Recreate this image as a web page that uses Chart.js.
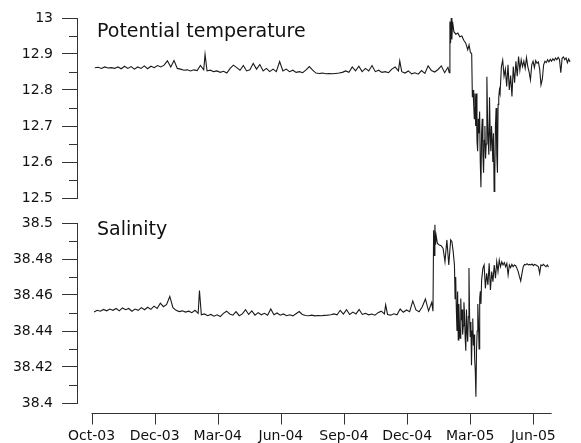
<!DOCTYPE html>
<html>
<head>
<meta charset="utf-8">
<script src="https://cdn.jsdelivr.net/npm/chart.js@4"></script>
<style>
    body { margin: 0; background: #fff; }
    #wrap { position: relative; width: 581px; height: 443px; }
    canvas { position: absolute; left: 0; }
</style>
</head>
<body>
<div id="wrap">
    <canvas id="tempChart" width="581" height="210" style="top:0"></canvas>
    <canvas id="salChart" width="581" height="233" style="top:210px"></canvas>
</div>
<script>
// x axis units: 100 per labelled tick
var tickLabels = ['Oct-03', 'Dec-03', 'Mar-04', 'Jun-04', 'Sep-04', 'Dec-04', 'Mar-05', 'Jun-05'];
var tickPositions = [0, 100, 200, 300, 400, 500, 600, 700];

var time = [4, 9, 14, 19, 24, 29, 34, 39, 44, 49, 54, 59, 64, 69, 74, 79, 84, 89, 94, 99,
    104, 109, 114, 119, 124, 129, 134, 139, 144, 149, 154, 159, 164, 169, 171,
    174, 179, 184, 189, 194, 199, 204, 209, 214, 219, 224, 229, 234, 239, 244, 249, 254, 259, 264, 269,
    274, 279, 284, 289, 294, 299, 304, 309, 314, 319, 324, 329, 334, 339, 344, 349, 354, 359, 364, 369,
    374, 379, 384, 389, 394, 399, 404, 409, 414, 419, 424, 429, 434, 439, 444, 449, 454, 459, 464, 466,
    469, 474, 479, 484, 489, 494, 499, 504, 509, 514, 519, 524, 529, 534, 539,
    541, 542, 543, 544, 545, 546, 548, 551, 554, 557, 560, 563, 566, 569, 571, 573, 575,
    576, 577, 578, 579, 580, 581, 582, 583, 584, 585, 586, 587, 588, 589, 590, 591, 592, 593, 594, 595,
    596, 597, 598, 599, 600, 601, 602, 603, 604, 605, 606, 607, 608, 609, 610, 611, 612, 613, 614, 615,
    616, 617, 618,
    620, 622, 624, 626, 628, 630, 632, 634, 636, 638, 640, 642, 644, 646, 648, 650, 652, 654, 656, 658,
    660, 662, 664, 666, 668, 670, 672, 674, 676, 678, 680, 682, 684, 686, 688, 690, 692, 694, 696, 698,
    700, 702, 704, 706, 708, 710, 712, 714, 716, 718, 720, 722, 724];

var temperature = [12.862, 12.863, 12.860, 12.864, 12.861, 12.862, 12.860, 12.864, 12.859, 12.866,
    12.860, 12.865, 12.858, 12.864, 12.860, 12.867, 12.859, 12.866, 12.862, 12.868,
    12.864, 12.869, 12.881, 12.864, 12.882, 12.860, 12.858, 12.855, 12.856, 12.853,
    12.856, 12.854, 12.868, 12.856, 12.899,
    12.853, 12.855, 12.851, 12.853, 12.849, 12.852, 12.847, 12.860, 12.869, 12.862,
    12.855, 12.868, 12.853, 12.856, 12.874, 12.858, 12.871, 12.853, 12.860, 12.851,
    12.858, 12.851, 12.879, 12.853, 12.858, 12.851, 12.855, 12.849, 12.851, 12.848,
    12.856, 12.865, 12.855, 12.847, 12.846, 12.847, 12.845, 12.846, 12.845, 12.846,
    12.847, 12.849, 12.853, 12.849, 12.864, 12.853, 12.866, 12.851, 12.860, 12.853,
    12.868, 12.851, 12.855, 12.849, 12.851, 12.848, 12.858, 12.864, 12.853, 12.881,
    12.851, 12.847, 12.853, 12.845, 12.848, 12.844, 12.854, 12.846, 12.867, 12.854,
    12.850, 12.857, 12.867, 12.848, 12.863,
    12.848, 12.99, 12.93, 13.0, 12.94, 12.99, 12.962, 12.955, 12.958, 12.948, 12.950, 12.938,
    12.930, 12.912, 12.925, 12.905, 12.900,
    12.78, 12.80, 12.76, 12.72, 12.79, 12.70, 12.79, 12.66, 12.63, 12.72,
    12.68, 12.74, 12.60, 12.53, 12.68, 12.72, 12.62, 12.57, 12.66, 12.70,
    12.61, 12.65, 12.837, 12.72, 12.66, 12.62, 12.78, 12.68, 12.63, 12.70,
    12.66, 12.60, 12.68, 12.518, 12.56, 12.70, 12.75, 12.62, 12.57, 12.76,
    12.78, 12.80, 12.79,
    12.865, 12.883, 12.838, 12.858, 12.81, 12.87, 12.80, 12.84, 12.782, 12.865,
    12.82, 12.88, 12.838, 12.893, 12.855, 12.884, 12.865, 12.88, 12.86, 12.89,
    12.865, 12.85, 12.828, 12.87, 12.88, 12.862, 12.882, 12.874, 12.878, 12.858,
    12.814, 12.83, 12.87, 12.88, 12.876, 12.884, 12.878, 12.885, 12.88, 12.887,
    12.882, 12.889, 12.884, 12.891, 12.885, 12.848, 12.888, 12.892, 12.884, 12.889,
    12.876, 12.886, 12.878];

var salinity = [38.4505, 38.4515, 38.4510, 38.4520, 38.4512, 38.4522, 38.4515, 38.4525, 38.4512, 38.4528,
    38.4518, 38.4525, 38.4510, 38.4522, 38.4515, 38.4530, 38.4518, 38.4532, 38.4520, 38.4538,
    38.4525, 38.4555, 38.4535, 38.4548, 38.4592, 38.4530, 38.4515, 38.4508, 38.4512, 38.4505,
    38.4510, 38.4502, 38.4515, 38.4498, 38.4625,
    38.4490, 38.4495, 38.4485, 38.4492, 38.4482, 38.4490, 38.4480, 38.4498, 38.4510, 38.4495,
    38.4488, 38.4508, 38.4485, 38.4495, 38.4518, 38.4492, 38.4512, 38.4488, 38.4502, 38.4490,
    38.4498, 38.4488, 38.4522, 38.4490, 38.4500, 38.4488, 38.4495, 38.4485, 38.4490, 38.4484,
    38.4496, 38.4508, 38.4492, 38.4486, 38.4485, 38.4488, 38.4484, 38.4486, 38.4485, 38.4487,
    38.4488, 38.4490, 38.4495, 38.4490, 38.4515, 38.4494, 38.4518, 38.4492, 38.4505, 38.4495,
    38.4520, 38.4492, 38.4498, 38.4490, 38.4494, 38.4488, 38.4502, 38.4510, 38.4495, 38.4545,
    38.4492, 38.4488, 38.4496, 38.4490, 38.4522, 38.4504, 38.4517, 38.4507, 38.4567, 38.4517,
    38.4507, 38.4535, 38.4578, 38.4511, 38.4559,
    38.451, 38.496, 38.482, 38.499, 38.488, 38.493, 38.4887, 38.4878, 38.4874, 38.4859, 38.4785, 38.4906,
    38.4767, 38.4906, 38.4896, 38.4841, 38.4767,
    38.458, 38.470, 38.452, 38.440, 38.462, 38.435, 38.455, 38.442, 38.436, 38.458,
    38.446, 38.452, 38.438, 38.443, 38.456, 38.449, 38.436, 38.429, 38.452, 38.440,
    38.434, 38.448, 38.475, 38.448, 38.437, 38.445, 38.421, 38.440, 38.447, 38.432,
    38.438, 38.425, 38.418, 38.4035, 38.430, 38.440, 38.455, 38.445, 38.430, 38.458,
    38.462, 38.455, 38.468,
    38.4748, 38.4767, 38.4637, 38.472, 38.4656, 38.4776, 38.4628, 38.473, 38.4674, 38.4767,
    38.4693, 38.4785, 38.473, 38.4794, 38.4757, 38.4785, 38.4767, 38.478, 38.4757, 38.4776,
    38.4711, 38.4767, 38.4752, 38.477, 38.4757, 38.4767, 38.4763, 38.4748, 38.473, 38.4702,
    38.4678, 38.472, 38.4757, 38.477, 38.4767, 38.4774, 38.4767, 38.477, 38.4767, 38.4772,
    38.4763, 38.477, 38.4767, 38.4763, 38.4757, 38.472, 38.4767, 38.4763, 38.477, 38.4763,
    38.4757, 38.4767, 38.4755];

var axisColor = '#333';
var lineColor = '#1a1a1a';

Chart.defaults.font.family = '"DejaVu Sans", sans-serif';
Chart.defaults.font.size = 14;
Chart.defaults.color = '#111';

// minor ticks, panel label and the detached x axis
var panelDecor = {
    id: 'panelDecor',
    afterDraw: function (chart, args, opts) {
        var ctx = chart.ctx;
        var area = chart.chartArea;
        var yScale = chart.scales.y;
        var xScale = chart.scales.x;
        ctx.save();
        ctx.strokeStyle = axisColor;
        ctx.lineWidth = 1;

        var ticks = yScale.ticks;
        for (var i = 0; i < ticks.length - 1; i++) {
            var mid = (ticks[i].value + ticks[i + 1].value) / 2;
            var py = Math.round(yScale.getPixelForValue(mid)) + 0.5;
            ctx.beginPath();
            ctx.moveTo(area.left - 8, py);
            ctx.lineTo(area.left, py);
            ctx.stroke();
        }

        ctx.fillStyle = '#111';
        ctx.font = '19px "DejaVu Sans"';
        ctx.textBaseline = 'alphabetic';
        ctx.fillText(opts.text, area.left + 20, area.top + opts.offset);

        if (opts.xAxis) {
            var axisY = Math.round(area.bottom + 10) + 0.5;
            ctx.beginPath();
            ctx.moveTo(xScale.getPixelForValue(tickPositions[0]), axisY);
            ctx.lineTo(xScale.getPixelForValue(729), axisY);
            ctx.stroke();
            tickPositions.forEach(function (v) {
                var px = Math.round(xScale.getPixelForValue(v)) + 0.5;
                ctx.beginPath();
                ctx.moveTo(px, axisY);
                ctx.lineTo(px, axisY + 11);
                ctx.stroke();
            });
        }
        ctx.restore();
    }
};

function buildPoints(values) {
    return values.map(function (v, i) {
        return { x: time[i], y: v };
    });
}

function makeChart(canvasId, values, yOpts, decor, showX, padding) {
    var ctx = document.getElementById(canvasId).getContext('2d');
    return new Chart(ctx, {
        type: 'line',
        data: {
            datasets: [{
                data: buildPoints(values),
                borderColor: lineColor,
                borderWidth: 1.1,
                pointRadius: 0,
                tension: 0,
                fill: false
            }]
        },
        options: {
            responsive: false,
            animation: false,
            events: [],
            layout: { padding: padding, autoPadding: false },
            plugins: {
                legend: { display: false },
                tooltip: { enabled: false },
                panelDecor: decor
            },
            scales: {
                x: {
                    type: 'linear',
                    min: -23,
                    max: 730,
                    display: showX,
                    afterFit: function (scale) { scale.height = showX ? 40 : 0; },
                    afterBuildTicks: function (scale) {
                        scale.ticks = tickPositions.map(function (v) { return { value: v }; });
                    },
                    grid: { display: false, drawTicks: false },
                    border: { display: false },
                    ticks: {
                        padding: 25,
                        maxRotation: 0,
                        autoSkip: false,
                        callback: function (value) {
                            return tickLabels[tickPositions.indexOf(value)];
                        }
                    }
                },
                y: {
                    min: yOpts.min,
                    max: yOpts.max,
                    afterFit: function (scale) {
                        scale.width = 77;
                        scale.paddingTop = 0;
                        scale.paddingBottom = 0;
                    },
                    grid: {
                        drawOnChartArea: false,
                        tickLength: 15,
                        tickColor: axisColor,
                        tickWidth: 1
                    },
                    border: { display: true, color: axisColor, width: 1 },
                    ticks: {
                        stepSize: yOpts.step,
                        padding: 9,
                        callback: function (value) {
                            return String(+value.toFixed(yOpts.digits));
                        }
                    }
                }
            }
        },
        plugins: [panelDecor]
    });
}

makeChart('tempChart', temperature,
    { min: 12.5, max: 13, step: 0.1, digits: 1 },
    { text: 'Potential temperature', offset: 18.7, xAxis: false },
    false,
    { top: 18, bottom: 12, left: 0, right: 7 });

makeChart('salChart', salinity,
    { min: 38.4, max: 38.5, step: 0.02, digits: 2 },
    { text: 'Salinity', offset: 12, xAxis: true },
    true,
    { top: 13, bottom: 0, left: 0, right: 7 });
</script>
</body>
</html>
